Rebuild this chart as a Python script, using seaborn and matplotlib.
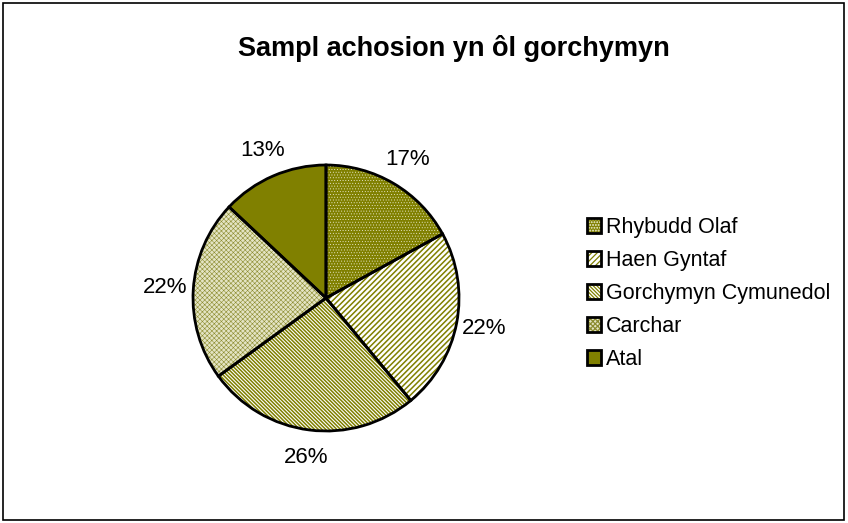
import matplotlib
matplotlib.use("Agg")
import matplotlib.pyplot as plt
import seaborn as sns
from matplotlib.patches import Patch, Rectangle

categories = ["Rhybudd Olaf", "Haen Gyntaf", "Gorchymyn Cymunedol", "Carchar", "Atal"]
values = [17, 22, 26, 22, 13]

# olive fills with Excel-like patterns
faces = ["#808000", "white", "white", "#e4e4c4", "#808000"]
hatch_cols = ["#f4f4e0", "#808000", "#808000", "#8c8c30", "#808000"]
hatches = ["......", "//////", "\\" * 9, "xxxxxxx", ""]
hatch_lw = [0.3, 1.1, 1.1, 0.4, 0.9]

sns.set_theme(style="white")
plt.rcParams["font.family"] = ["Liberation Sans", "DejaVu Sans"]
plt.rcParams["text.color"] = "black"
plt.rcParams["hatch.linewidth"] = 0.9

fig = plt.figure(figsize=(8.48, 5.23), dpi=100)
fig.patches.append(Rectangle((0.004, 0.006), 0.991, 0.988, transform=fig.transFigure,
                             fill=False, edgecolor="black", linewidth=1.2))

ax = fig.add_axes([0.2276, 0.1759, 0.3137, 0.5086])

wedges, texts, autotexts = ax.pie(values, startangle=90, counterclock=False,
                                  autopct="%1.0f%%", pctdistance=1.21,
                                  wedgeprops=dict(linewidth=0),
                                  textprops=dict(fontsize=16, color="black"))
for w, f, hc, h, lw in zip(wedges, faces, hatch_cols, hatches, hatch_lw):
    w.set_facecolor(f)
    w.set_edgecolor(hc)
    w.set_hatch(h)
    w._hatch_linewidth = lw

# black outlines drawn on top
outline, _ = ax.pie(values, startangle=90, counterclock=False,
                    wedgeprops=dict(fill=False, edgecolor="black", linewidth=2))
ax.set_xlim(-1, 1)
ax.set_ylim(-1, 1)
ax.set_aspect("equal")

fig.text(0.535, 0.908, "Sampl achosion yn ôl gorchymyn", ha="center", va="center",
         fontsize=19.5, fontweight="bold", color="black")

handles = [(w, Patch(fill=False, edgecolor="black", linewidth=2)) for w in wedges]
fig.legend(handles, categories, loc="center left", bbox_to_anchor=(0.692, 0.439),
           frameon=False, fontsize=15.5, handlelength=0.68, handleheight=0.68,
           handletextpad=0.2, labelspacing=0.56, borderpad=0, borderaxespad=0)

plt.savefig("out.png", dpi=100)
